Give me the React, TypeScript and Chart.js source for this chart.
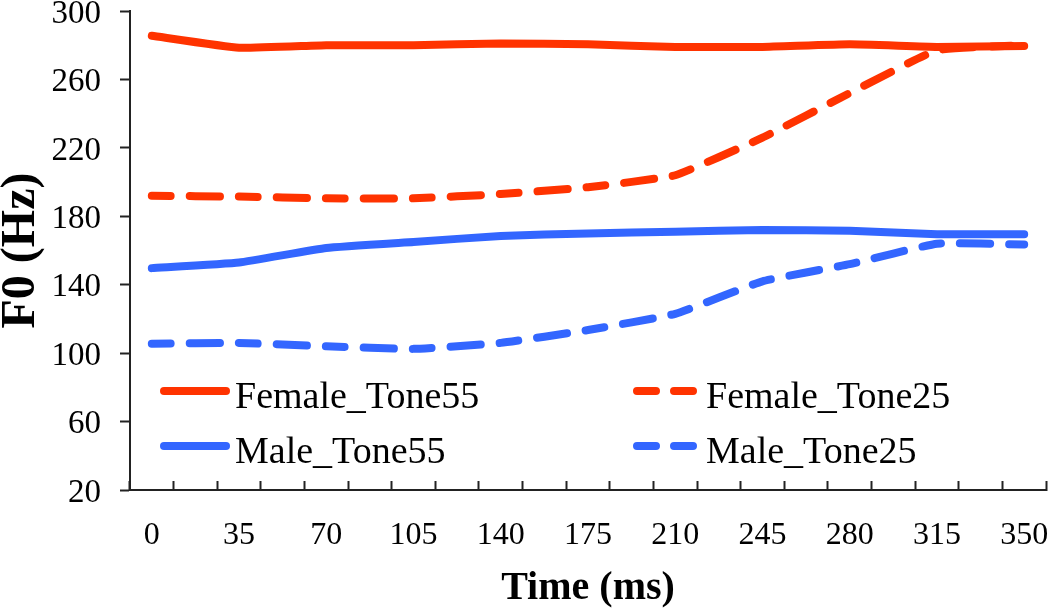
import React, { useEffect, useRef } from 'react';
import { Chart, registerables } from 'chart.js';

Chart.register(...registerables);

// Sample times (ms) where F0 was measured
const TIME_MS = ['0', '35', '70', '105', '140', '175', '210', '245', '280', '315', '350'];
// Category slots of the x axis (tick marks sit between slots, labels every other slot)
const AXIS_SLOTS = ['0', '17.5', '35', '52.5', '70', '87.5', '105', '122.5', '140', '157.5', '175',
  '192.5', '210', '227.5', '245', '262.5', '280', '297.5', '315', '332.5', '350'];
const Y_TICKS = [20, 60, 100, 140, 180, 220, 260, 300];

const FEMALE_TONE55 = [285.5, 278.5, 280, 280, 281, 280.5, 279, 279, 280.5, 279, 279.5];
const FEMALE_TONE25 = [192, 191.5, 190.5, 190.5, 193, 197, 204, 226, 252, 277, 280];
const MALE_TONE55 = [149.7, 153, 161.5, 165, 168.5, 170, 171, 172, 171.5, 169.5, 169.5];
const MALE_TONE25 = [105.5, 106, 104, 102.5, 106, 113.5, 123, 142, 152, 164, 163.5];

const RED = '#FF3300';
const BLUE = '#3366FF';
const SERIF = '"Liberation Serif", "Times New Roman", serif';

const toPoints = (vals: number[]) => vals.map((v, i) => ({ x: TIME_MS[i], y: v }));

const gridLegend = {
  id: 'gridLegend',
  afterDraw(chart: any) {
    const { ctx, chartArea } = chart;
    const colX = [chartArea.left + 30, chartArea.left + 503];
    const rowY = [chartArea.top + 380, chartArea.top + 435];
    chart.data.datasets.forEach((ds: any, i: number) => {
      const x = colX[i % 2];
      const y = rowY[Math.floor(i / 2)];
      const dashed = ds.borderDash && ds.borderDash.length > 0;
      ctx.save();
      ctx.strokeStyle = ds.borderColor;
      ctx.lineWidth = 8;
      ctx.lineCap = 'round';
      ctx.setLineDash(dashed ? [19, 18] : []);
      ctx.beginPath();
      ctx.moveTo(x + 4, y);
      ctx.lineTo(x + (dashed ? 60 : 66), y);
      ctx.stroke();
      ctx.setLineDash([]);
      ctx.fillStyle = '#000';
      ctx.font = `38px ${SERIF}`;
      ctx.textAlign = 'left';
      ctx.textBaseline = 'alphabetic';
      ctx.fillText(ds.label, x + (dashed ? 73 : 75), y + 17);
      ctx.restore();
    });
  },
};

export default function App() {
  const ref = useRef<HTMLCanvasElement | null>(null);

  useEffect(() => {
    if (!ref.current) return;
    const chart = new Chart(ref.current, {
      type: 'line',
      data: {
        datasets: [
          { label: 'Female_Tone55', data: toPoints(FEMALE_TONE55), borderColor: RED, backgroundColor: RED, borderWidth: 8, borderDash: [] },
          { label: 'Female_Tone25', data: toPoints(FEMALE_TONE25), borderColor: RED, backgroundColor: RED, borderWidth: 8, borderDash: [19, 19, 30, 19] },
          { label: 'Male_Tone55', data: toPoints(MALE_TONE55), borderColor: BLUE, backgroundColor: BLUE, borderWidth: 8, borderDash: [] },
          { label: 'Male_Tone25', data: toPoints(MALE_TONE25), borderColor: BLUE, backgroundColor: BLUE, borderWidth: 8, borderDash: [19, 19, 30, 19] },
        ],
      },
      options: {
        responsive: false,
        animation: false,
        layout: { padding: { top: 11, right: 4, bottom: 0, left: 0 } },
        plugins: { legend: { display: false }, tooltip: { enabled: false } },
        elements: {
          point: { radius: 0 },
          line: { tension: 0.12, borderCapStyle: 'round', borderJoinStyle: 'round' },
        },
        scales: {
          x: {
            type: 'category',
            labels: AXIS_SLOTS,
            offset: true,
            grid: { offset: true, drawOnChartArea: false, drawTicks: true, tickLength: -9, tickWidth: 2, tickColor: '#222' },
            border: { display: true, color: '#222', width: 2 },
            ticks: {
              autoSkip: false,
              maxRotation: 0,
              minRotation: 0,
              padding: 35,
              color: '#000',
              font: { family: SERIF, size: 32 },
              callback: (_v: any, i: number) => (i % 2 === 0 ? AXIS_SLOTS[i] : ''),
            },
            title: {
              display: true,
              text: 'Time (ms)',
              color: '#000',
              font: { family: SERIF, size: 40, weight: 'bold', lineHeight: 1.05 },
              padding: { top: 0, bottom: 0 },
            },
            afterFit: (s: any) => { s.height = 120; s.paddingLeft = 0; s.paddingRight = 0; },
          },
          y: {
            type: 'linear',
            min: 20,
            max: 300,
            afterBuildTicks: (s: any) => { s.ticks = Y_TICKS.map((v) => ({ value: v })); },
            grid: { drawOnChartArea: false, drawTicks: true, tickLength: 10, tickWidth: 2, tickColor: '#222' },
            border: { display: true, color: '#222', width: 2 },
            ticks: { padding: 19, labelOffset: 3, color: '#000', font: { family: SERIF, size: 33 } },
            title: {
              display: true,
              text: 'F0 (Hz)',
              color: '#000',
              font: { family: SERIF, size: 48, weight: 'bold', lineHeight: 0.88 },
              padding: { top: 0, bottom: 0 },
            },
            afterFit: (s: any) => { s.width = 130; s.paddingTop = 0; s.paddingBottom = 0; },
          },
        },
      } as any,
      plugins: [gridLegend],
    });
    return () => chart.destroy();
  }, []);

  return (
    <div style={{ position: 'fixed', left: 0, top: 0, width: 1050, height: 610, background: '#fff' }}>
      <canvas ref={ref} width={1050} height={610} style={{ display: 'block' }} />
    </div>
  );
}
